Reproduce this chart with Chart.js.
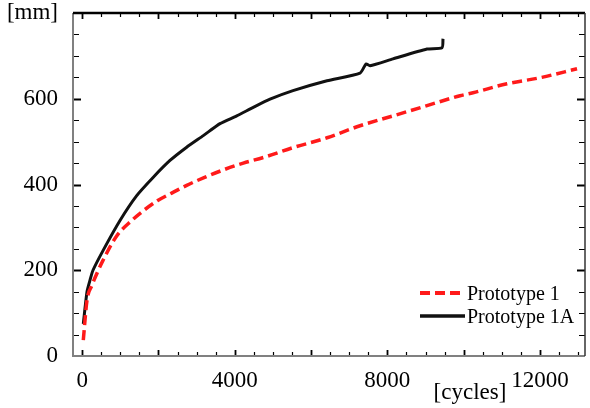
<!DOCTYPE html>
<html>
<head>
<meta charset="utf-8">
<script src="https://cdn.jsdelivr.net/npm/chart.js@4/dist/chart.umd.min.js"></script>
<style>
  body { margin: 0; background: #fff; }
</style>
</head>
<body>
<canvas id="chart" width="590" height="408"></canvas>
<script>
// Prototype 1 (red dashed)
const p1Cycles = [30, 127, 258, 389, 546, 905, 1298, 1621, 1970, 2347, 2740, 3194, 3700, 4224, 4748, 5526, 6418, 7283, 8147, 9039, 9904, 10244, 11136, 12001, 12971]
const p1Mm = [37, 130, 165, 193, 223, 280, 316, 340, 362, 380, 398, 416, 434, 450, 463, 486, 509, 537, 560, 584, 607, 614, 635, 649, 670]

// Prototype 1A (black)
const p1aCycles = [30, 127, 206, 284, 554, 992, 1430, 1865, 2302, 2740, 3175, 3613, 4051, 4486, 4924, 5526, 6418, 7283, 7440, 7545, 8147, 9039, 9432, 9458]
const p1aMm = [75, 150, 177, 200, 247, 316, 374, 417, 456, 487, 514, 542, 560, 580, 599, 619, 642, 660, 681, 677, 693, 716, 719, 740]

const xTicks = [0, 4000, 8000, 12000]
const yTicks = [0, 200, 400, 600, 800]
const seriesNames = ['Prototype 1', 'Prototype 1A']

const serif = "'Liberation Serif', 'Times New Roman', serif"

const toPoints = (xs, ys) => xs.map((x, i) => ({ x: x, y: ys[i] }))

// box frame, inside ticks, x title and legend
const framePlugin = {
  id: 'frame',
  afterDraw(chart) {
    const { ctx, chartArea: a, scales } = chart
    const x = scales.x, y = scales.y
    ctx.save()
    ctx.lineCap = 'butt'

    // minor / major ticks
    ctx.strokeStyle = '#000'
    for (let v = 50; v < 800; v += 50) {
      const py = Math.round(y.getPixelForValue(v)) + 0.5
      const major = v % 200 === 0
      ctx.lineWidth = major ? 2 : 1.2
      const len = major ? 8 : 6
      ctx.beginPath()
      ctx.moveTo(a.left, py); ctx.lineTo(a.left + len, py)
      ctx.moveTo(a.right, py); ctx.lineTo(a.right - len, py)
      ctx.stroke()
    }
    for (let v = 0; v < 13180; v += 500) {
      const px = Math.round(x.getPixelForValue(v)) + 0.5
      const major = v % 2000 === 0
      ctx.lineWidth = major ? 1.8 : 1.2
      const len = major ? 6 : 4
      ctx.beginPath()
      ctx.moveTo(px, a.bottom); ctx.lineTo(px, a.bottom - len)
      ctx.moveTo(px, a.top); ctx.lineTo(px, a.top + len)
      ctx.stroke()
    }

    // frame
    ctx.lineWidth = 2
    ctx.strokeStyle = '#808080'
    ctx.beginPath()
    ctx.moveTo(a.left, a.top); ctx.lineTo(a.left, a.bottom); ctx.lineTo(a.right, a.bottom)
    ctx.stroke()
    ctx.strokeStyle = '#000'
    ctx.lineWidth = 2.5
    ctx.beginPath()
    ctx.moveTo(a.left, a.top); ctx.lineTo(a.right, a.top)
    ctx.stroke()
    ctx.lineWidth = 1.5
    ctx.strokeStyle = '#333'
    ctx.beginPath()
    ctx.moveTo(a.right, a.top); ctx.lineTo(a.right, a.bottom)
    ctx.stroke()

    // x axis title
    ctx.fillStyle = '#000'
    ctx.font = '23px ' + serif
    ctx.textAlign = 'center'
    ctx.textBaseline = 'alphabetic'
    ctx.fillText('[cycles]', 470, 399)

    // legend
    ctx.font = '20px ' + serif
    ctx.textAlign = 'left'
    ctx.textBaseline = 'middle'
    chart.data.datasets.forEach((ds, i) => {
      const ly = 293 + i * 23
      ctx.strokeStyle = ds.borderColor
      ctx.lineWidth = ds.borderWidth + 0.5
      ctx.setLineDash(ds.borderDash || [])
      ctx.beginPath()
      ctx.moveTo(420, ly); ctx.lineTo(465, ly)
      ctx.stroke()
      ctx.setLineDash([])
      ctx.fillText(seriesNames[i], 467, ly + 2)
    })
    ctx.restore()
  }
}

const myChart = new Chart(document.querySelector('#chart').getContext('2d'), {
  type: 'line',
  data: {
    datasets: [{
      label: seriesNames[0],
      data: toPoints(p1Cycles, p1Mm),
      borderColor: '#ff1a1a',
      borderWidth: 3.5,
      borderDash: [10, 5],
      pointRadius: 0,
      cubicInterpolationMode: 'monotone',
      fill: false
    }, {
      label: seriesNames[1],
      data: toPoints(p1aCycles, p1aMm),
      borderColor: '#111',
      borderWidth: 3,
      pointRadius: 0,
      tension: 0.2,
      fill: false
    }]
  },
  options: {
    responsive: false,
    animation: false,
    layout: { padding: { top: 13, right: 5, left: 0, bottom: 0 } },
    plugins: {
      legend: { display: false },
      tooltip: { enabled: false }
    },
    scales: {
      x: {
        type: 'linear',
        min: -240,
        max: 13180,
        grid: { display: false },
        border: { display: false },
        afterBuildTicks: s => { s.ticks = xTicks.map(v => ({ value: v })) },
        afterFit: s => { s.height = 52; s.paddingLeft = 0; s.paddingRight = 0 },
        ticks: {
          color: '#000',
          padding: 3,
          maxRotation: 0,
          autoSkip: false,
          font: { family: serif, size: 23 },
          callback: v => String(v)
        }
      },
      y: {
        min: 0,
        max: 800,
        grid: { display: false },
        border: { display: false },
        afterBuildTicks: s => { s.ticks = yTicks.map(v => ({ value: v })) },
        afterFit: s => { s.width = 73; s.paddingTop = 0; s.paddingBottom = 0 },
        ticks: {
          color: '#000',
          padding: 7,
          autoSkip: false,
          font: { family: serif, size: 23 },
          callback: v => v === 800 ? '[mm]' : String(v)
        }
      }
    }
  },
  plugins: [framePlugin]
});
</script>
</body>
</html>
